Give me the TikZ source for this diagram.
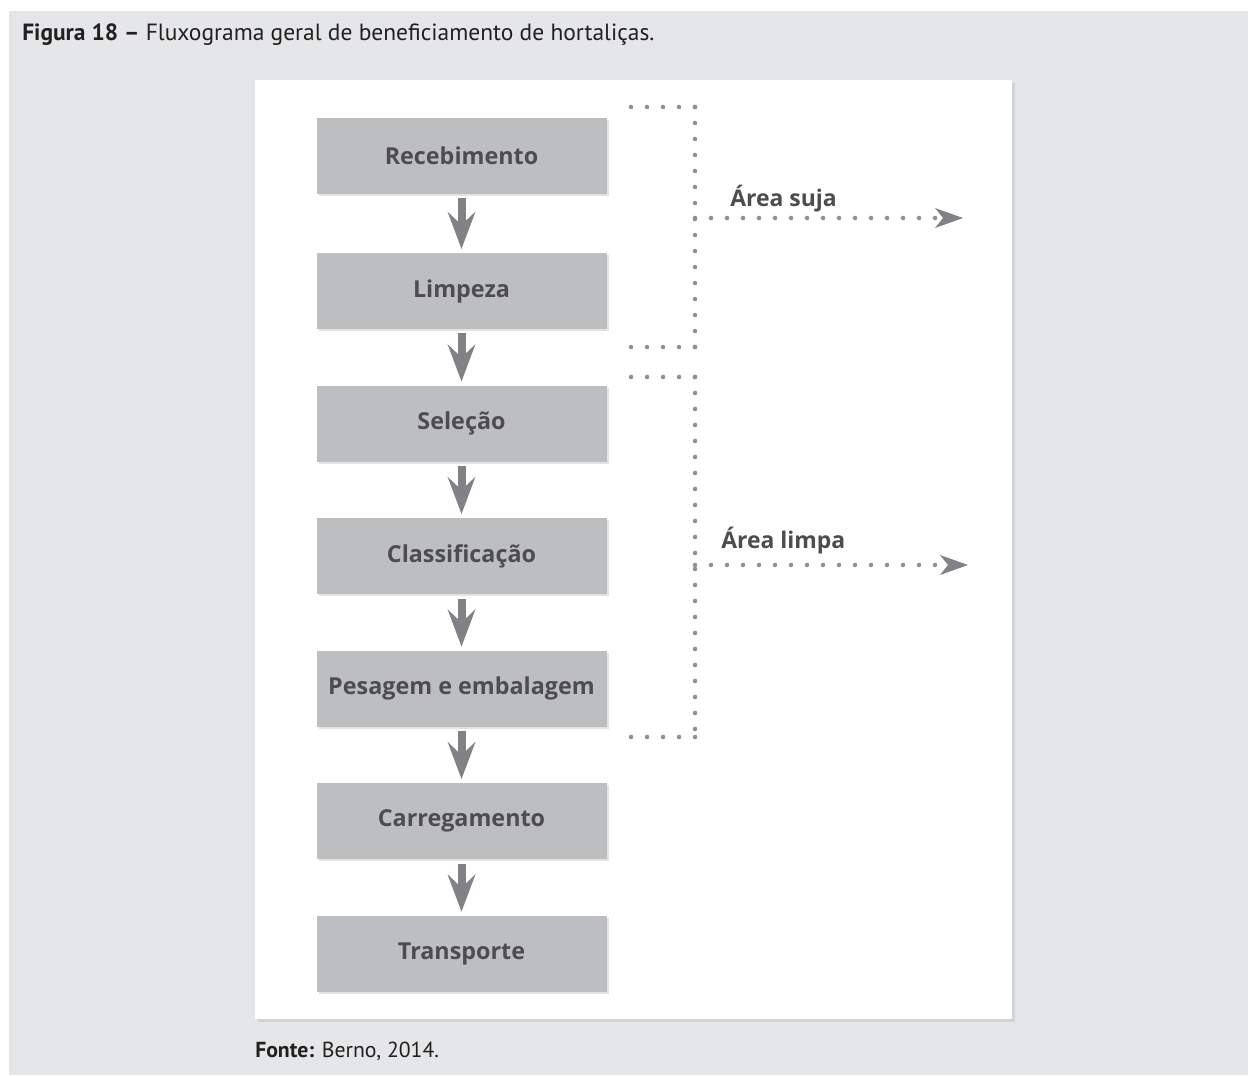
\documentclass[tikz,border=0pt]{standalone}
\usepackage{fontspec}
\setmainfont{PT Sans}
\newfontfamily\boxfont{Open Sans}
\usetikzlibrary{positioning,arrows.meta,shadows}
\definecolor{bggray}{HTML}{E5E6E8}
\definecolor{boxgray}{HTML}{BDBEC0}
\definecolor{boxtext}{HTML}{4D4D4F}
\definecolor{arrowgray}{HTML}{808285}
\definecolor{dotgray}{HTML}{8E9093}
\definecolor{captext}{HTML}{231F20}

\begin{document}
\begin{tikzpicture}[
    x=0.75pt, y=-0.75pt,
    node distance=42pt,
    stepbox/.style={rectangle, fill=boxgray, text=boxtext, inner sep=0pt,
        minimum width=217.5pt, minimum height=57pt,
        font=\boxfont\fontsize{17.5}{20}\selectfont\bfseries,
        drop shadow={opacity=0.22, shadow xshift=1.5pt, shadow yshift=-1.5pt}},
    flow/.style={draw=arrowgray, line width=6pt, shorten <=3pt, shorten >=3pt,
        -{Stealth[length=28pt, width=21pt, inset=10pt, line width=0pt]}},
    dots/.style={draw=dotgray, line width=3.4pt, line cap=round, dash pattern=on 0pt off 12pt},
    dotarrow/.style={dots, -{Stealth[length=21pt, width=15pt, inset=6pt, line width=0pt, fill=arrowgray]}},
    area/.style={anchor=base west, inner sep=0pt, text=boxtext, font=\boxfont\fontsize{17.2}{20}\selectfont\bfseries},
    caption/.style={anchor=base west, inner sep=0pt, text=captext}
]
\useasboundingbox (0,0) rectangle (1248,1075);
\fill[bggray] (9,11) rectangle (1248,1075);
\fill[white, drop shadow={opacity=0.18, shadow xshift=2pt, shadow yshift=-2pt}] (255,80) rectangle (1012,1019);

% Caption and source
\node[caption, font=\fontsize{17.6}{20}\selectfont] (title) at (22,40) {\textbf{Figura 18 –} Fluxograma geral de beneficiamento de hortaliças.};
\node[caption, font=\fontsize{16.3}{20}\selectfont] (fonte) at (255,1057) {\textbf{Fonte:} Berno, 2014.};

% Flow steps
\node[stepbox] (rec) at (461.5,156) {Recebimento};
\node[stepbox, below=44pt of rec] (lim) {Limpeza};
\node[stepbox, below=of lim] (sel) {Seleção};
\node[stepbox, below=of sel] (cla) {Classificação};
\node[stepbox, below=of cla] (pes) {Pesagem e embalagem};
\node[stepbox, below=of pes] (car) {Carregamento};
\node[stepbox, below=of car] (tra) {Transporte};

\foreach \a/\b in {rec/lim, lim/sel, sel/cla, cla/pes, pes/car, car/tra}
    \draw[flow] (\a) -- (\b);

% Dirty area
\coordinate (s1) at (631,107);
\coordinate (s2) at (695,107);
\coordinate (s3) at (695,347);
\coordinate (s4) at (631,347);
\coordinate (sm) at (695,218);
\coordinate (se) at (963,218);
\draw[dots] (s2) -- (s1);
\draw[dots] (s2) -- (s3);
\draw[dots] (s3) -- (s4);
\draw[dotarrow] (sm) -- (se);
\node[area] (suja) at (730,206) {Área suja};

% Clean area
\coordinate (l1) at (631,377);
\coordinate (l2) at (695,377);
\coordinate (l3) at (695,737);
\coordinate (l4) at (631,737);
\coordinate (lm) at (695,565);
\coordinate (le) at (968,565);
\draw[dots] (l2) -- (l1);
\draw[dots] (l2) -- (l3);
\draw[dots] (l3) -- (l4);
\draw[dotarrow] (lm) -- (le);
\node[area] (limpa) at (721,548) {Área limpa};
\end{tikzpicture}
\end{document}
